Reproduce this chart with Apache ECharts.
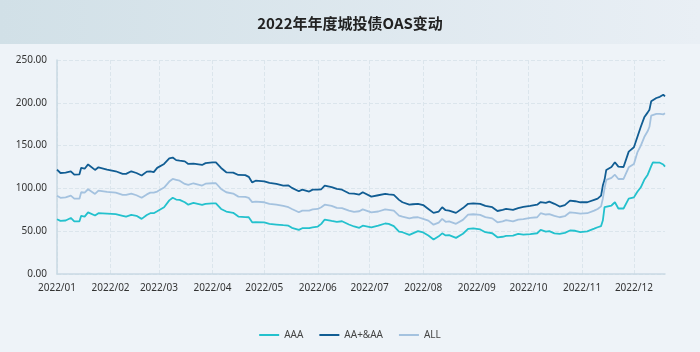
<!DOCTYPE html>
<html><head><meta charset="utf-8">
<script src="https://cdn.jsdelivr.net/npm/echarts@6/dist/echarts.min.js"></script>
<style>html,body{margin:0;padding:0;background:#eef3f8;}#c{width:700px;height:352px;}</style>
</head><body><div id="c"></div>
<script>
const titleText = '2022年年度城投债OAS变动';
const seriesNames = ['AAA', 'AA+&AA', 'ALL'];
const dates = ['01-01','01-03','01-06','01-09','01-11','01-14','01-15','01-17','01-19','01-20','01-23','01-25','01-30',
'02-04','02-08','02-10','02-13','02-16','02-19','02-22','02-24','02-26','02-28',
'03-04','03-07','03-09','03-11','03-13','03-14','03-16','03-18','03-21','03-26','03-28',
'04-01','04-03','04-06','04-09','04-13','04-16','04-20','04-22','04-24','04-26',
'05-01','05-04','05-08','05-12','05-15','05-17','05-21','05-23','05-27','05-29',
'06-01','06-03','06-05','06-09','06-12','06-15','06-19','06-22','06-25','06-27',
'07-02','07-06','07-10','07-12','07-15','07-18','07-20','07-24','07-26','07-29',
'08-01','08-04','08-07','08-10','08-12','08-14','08-16','08-20','08-24','08-27','08-30',
'09-03','09-06','09-10','09-13','09-16','09-18','09-22','09-25','09-28',
'10-02','10-06','10-08','10-11','10-13','10-16','10-19','10-22','10-25','10-28','10-31',
'11-04','11-08','11-10','11-12','11-13','11-14','11-15','11-18','11-20','11-22','11-25','11-28',
'12-01','12-03','12-05','12-07','12-09','12-10','12-11','12-12','12-14','12-16','12-18','12-19'];
const aaa = [64,62,62.5,65.5,61.5,61.5,68,67,72,73.3,68.3,71,70.5,
70,68,67,69,68,64.4,69,71,71,73.3,
78,86,89,87,86.6,87,83.8,81,83,80.7,82,
82.6,82.6,76,73,71.5,67.1,66.5,66.3,60.4,60.5,
60.2,58.6,57.8,57,56.5,53.9,51.6,53.5,53.5,54.5,
55.4,58.6,63.6,62,61,61.6,57.8,55.5,53.9,56.5,
54.6,56.5,59,58.6,56,49.6,48.8,45.7,47.5,50,
48.5,44.9,40.3,44,47.5,45,45.5,42.2,47,52.7,53.4,
52,48.8,47.6,42.9,43.5,44.5,44.9,46.9,46,
46.5,47.6,51.6,49.5,50,47.5,46.9,48,50.8,50.5,48.8,
49.9,53,54.6,56,62.4,78,78.5,80,83.8,76.5,76.5,88,
89.5,96,101.3,110,116,118,126,130.5,130,130,128,125.4];
const aaPlus = [122,118,118.5,120,116,116.5,124,123,128,128.6,121.6,124.6,122,
120,117,117,120,118,115,119.6,120,119,124,
128.6,135,136,133,132.4,133,131.6,128.6,129,127.4,129.5,
130.5,130.5,123.9,118.8,118.5,115.7,115.5,113.5,107,109,
108.3,106.4,105.2,103.3,103.5,100.6,96.6,98.5,96.3,98.6,
98.6,99,103.3,101.5,99.4,98.5,94.3,94,92.8,95.5,
90.4,92,93.6,93,92.4,86.6,83.8,81,81.5,82,
80.5,76,71.4,73,78,74.5,74,71.4,77,82,82.6,
82,79.5,78,73.6,75,76,75,77,78.5,
79.5,81,84,83,84.6,82,78.8,80.5,85.8,85,83.8,
83.8,86.6,88,91.6,103.3,110,121.6,125,130.5,125.4,125,143,
148,160,172,183,188.8,192,201.7,203,205.6,207,209.4,207.5];
const allS = [91.5,89,89.5,91.5,88,88,95.5,95,99,99.4,93.6,97.4,96,
95,92.5,92.4,94,92,89,93,95,95,96.3,
101,108,111,110,109,110,105.2,104,106,103.3,105.5,
106,106,99.4,95.5,94,90.4,90,89,84,84.5,
83.8,82,81,79.5,78,76,72.1,74,74,75.5,
76,78,81,79.5,77.2,77,74.1,72.5,73.3,75.5,
72.1,73,75.5,75,74,68.3,67,65.1,66,66.3,
64.5,62.4,57.6,60,64.4,61,61.5,58.6,63.2,69.4,69.8,
69,66.5,65,60.4,61.5,63,61.5,63.5,64,
65.5,66.3,71,69.5,70,68,66.3,67.5,72.1,71.5,70.5,
71,74,76,79,88,100,110,112.3,116,111,111,124.6,
128.6,142,150,160,167,172,185,187,187,187,186.5,187.7];
const yMin = 0, yMax = 250, yStep = 50;
const year = 2022;
const startDate = '2022-01-01', endDate = '2022-12-19';

// build full daily category axis
const cats = [];
{
  let d = new Date(startDate + 'T00:00:00Z');
  const e = new Date(endDate + 'T00:00:00Z');
  while (d <= e) { cats.push(d.toISOString().slice(0,10)); d = new Date(d.getTime() + 86400000); }
}
const toPairs = arr => dates.map((md, i) => [year + '-' + md, arr[i]]);
const isMonthStart = (idx, val) => val.slice(8,10) === '01';

const chart = echarts.init(document.getElementById('c'), null, {renderer: 'canvas'});
chart.setOption({
  backgroundColor: '#eef3f8',
  animation: false,
  graphic: [{
    type: 'rect', left: 0, top: 0, z: -10,
    shape: {width: 700, height: 44},
    style: {fill: new echarts.graphic.LinearGradient(0,0,1,0,[{offset:0,color:'#d1e0e7'},{offset:1,color:'#e9eff5'}])}
  }],
  title: {
    text: titleText, left: 'center', top: 11,
    textStyle: {fontSize: 15, fontWeight: 'bold', color: '#222', fontFamily: 'Noto Sans CJK SC'}
  },
  legend: {
    bottom: 7, left: 'center', icon: 'rect', itemWidth: 20, itemHeight: 2, itemGap: 16,
    textStyle: {fontSize: 10, color: '#444', fontFamily: 'Noto Sans'},
    data: seriesNames
  },
  grid: {left: 57, right: 35, top: 60, bottom: 78},
  xAxis: {
    type: 'category', data: cats, boundaryGap: false,
    axisLine: {lineStyle: {color: '#c9d9e3', width: 1.5}},
    axisTick: {show: false},
    axisLabel: {interval: isMonthStart, color: '#333', fontSize: 10, margin: 9,
      fontFamily: 'Noto Sans', formatter: v => v.slice(0,4) + '/' + v.slice(5,7)},
    splitLine: {show: true, interval: isMonthStart, lineStyle: {color: '#dbe5ec', type: 'dashed'}}
  },
  yAxis: {
    type: 'value', min: yMin, max: yMax, interval: yStep,
    axisLine: {show: true, lineStyle: {color: '#c9d9e3', width: 1.5}},
    axisTick: {show: false},
    axisLabel: {color: '#333', fontSize: 10, margin: 10, fontFamily: 'Noto Sans', formatter: v => v.toFixed(2)},
    splitLine: {lineStyle: {color: '#dbe5ec', type: 'dashed'}}
  },
  series: [
    {name: seriesNames[0], type: 'line', data: toPairs(aaa), symbol: 'none', lineStyle: {width: 1.8, color: '#23c1cd'}, itemStyle: {color: '#23c1cd'}},
    {name: seriesNames[1], type: 'line', data: toPairs(aaPlus), symbol: 'none', lineStyle: {width: 1.8, color: '#115d93'}, itemStyle: {color: '#115d93'}},
    {name: seriesNames[2], type: 'line', data: toPairs(allS), symbol: 'none', lineStyle: {width: 1.8, color: '#a4c2df'}, itemStyle: {color: '#a4c2df'}}
  ]
});
</script></body></html>
